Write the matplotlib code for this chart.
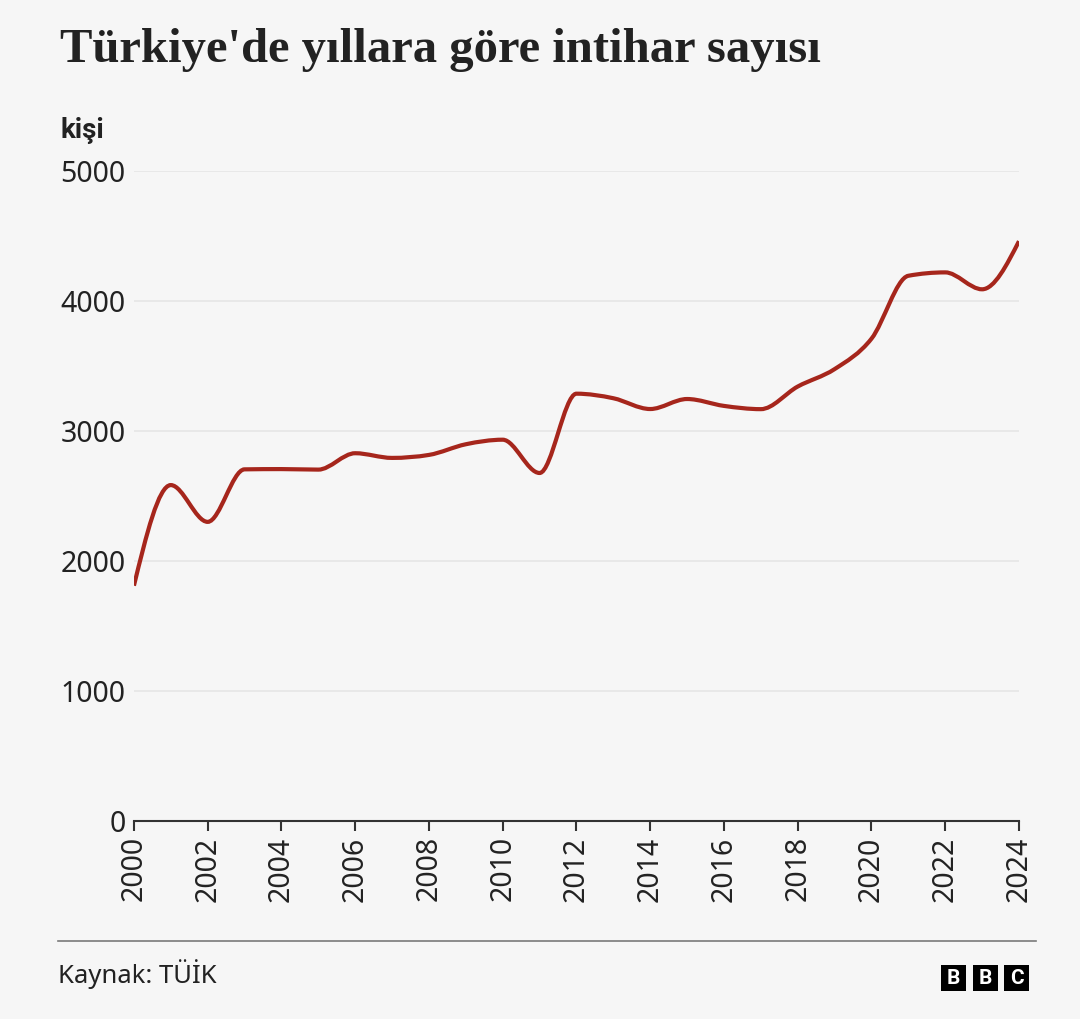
import numpy as np
import matplotlib
matplotlib.use("Agg")
import matplotlib.pyplot as plt
from matplotlib.path import Path
from matplotlib.patches import PathPatch, Rectangle

years = list(range(2000, 2025))
suicides = [1810, 2584, 2301, 2705, 2707, 2703, 2829, 2793, 2816, 2898,
            2933, 2677, 3287, 3252, 3169, 3246, 3193, 3168, 3342, 3476,
            3710, 4194, 4220, 4090, 4460]
y_ticks = [0, 1000, 2000, 3000, 4000, 5000]
x_ticks = list(range(2000, 2025, 2))

BG = "#f6f6f6"
LINE = "#a6261c"
TEXT = "#222222"


def monotone_path(x, y):
    # cubic bezier path with monotone (fritsch-carlson style) tangents
    x = np.asarray(x, float)
    y = np.asarray(y, float)
    h = np.diff(x)
    s = np.diff(y) / h
    m = np.zeros_like(y)
    for i in range(1, len(x) - 1):
        p = (s[i - 1] * h[i] + s[i] * h[i - 1]) / (h[i - 1] + h[i])
        m[i] = (np.sign(s[i - 1]) + np.sign(s[i])) * min(abs(s[i - 1]), abs(s[i]), 0.5 * abs(p))
    m[0] = (3 * s[0] - m[1]) / 2
    m[-1] = (3 * s[-1] - m[-2]) / 2
    verts = [(x[0], y[0])]
    codes = [Path.MOVETO]
    for i in range(len(x) - 1):
        d = h[i] / 3
        verts += [(x[i] + d, y[i] + m[i] * d),
                  (x[i + 1] - d, y[i + 1] - m[i + 1] * d),
                  (x[i + 1], y[i + 1])]
        codes += [Path.CURVE4] * 3
    return Path(verts, codes)


plt.rcParams["font.family"] = ["Noto Sans", "DejaVu Sans"]

fig = plt.figure(figsize=(10.8, 10.19), dpi=100, facecolor=BG)
ax = fig.add_axes([0.124, 0.1943, 0.8195, 0.6379], facecolor=BG)

ax.add_patch(PathPatch(monotone_path(years, suicides), facecolor="none",
                       edgecolor=LINE, lw=3.0, capstyle="butt", zorder=3))

ax.set_xlim(2000, 2024)
ax.set_ylim(0, 5000)
ax.set_yticks(y_ticks)
ax.set_yticklabels([str(v) for v in y_ticks])
ax.set_xticks(x_ticks)
ax.set_xticklabels([str(v) for v in x_ticks], rotation=90)
ax.tick_params(axis="y", length=0, pad=6, labelsize=20.5, labelcolor=TEXT)
ax.tick_params(axis="x", length=7, width=1.5, color="#333333", pad=4,
               labelsize=20.5, labelcolor=TEXT)
for v in y_ticks[1:]:
    ax.axhline(v, color="#e6e6e6", lw=1.2, zorder=1)
for sp in ["top", "right", "left"]:
    ax.spines[sp].set_visible(False)
ax.spines["bottom"].set_color("#333333")
ax.spines["bottom"].set_linewidth(1.5)

fig.text(60 / 1080, 1 - 50 / 1019, "Türkiye'de yıllara göre intihar sayısı",
         family=["Liberation Serif", "DejaVu Serif"], fontweight="bold",
         fontsize=35, color=TEXT, va="center", ha="left")
fig.text(60 / 1080, 1 - 131 / 1019, "kişi", family=["Roboto", "DejaVu Sans"],
         fontweight="bold", fontsize=20, color=TEXT, va="center", ha="left")

fig.add_artist(plt.Line2D([58 / 1080, 1036 / 1080], [1 - 941 / 1019] * 2,
                          color="#7a7a7a", lw=1.2))
fig.text(58 / 1080, 1 - 974 / 1019, "Kaynak: TÜİK", fontsize=18.5, color=TEXT,
         va="center", ha="left")

for i, ch in enumerate("BBC"):
    x0 = (941 + i * 31.7) / 1080
    fig.add_artist(Rectangle((x0, 1 - 991 / 1019), 25 / 1080, 26 / 1019,
                             transform=fig.transFigure, facecolor="black",
                             edgecolor="none"))
    fig.text(x0 + 12.5 / 1080, 1 - 978 / 1019, ch, family=["Roboto", "DejaVu Sans"],
             fontsize=15, fontweight="bold", color="white", ha="center", va="center")

fig.savefig("out.png", dpi=100, facecolor=BG)
